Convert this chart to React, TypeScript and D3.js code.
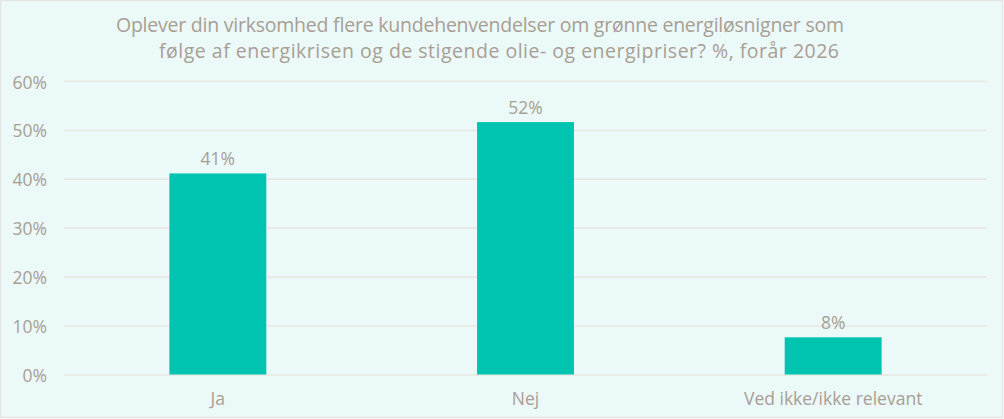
import { useEffect, useRef } from 'react';
import * as d3 from 'd3';

const categories = ['Ja', 'Nej', 'Ved ikke/ikke relevant'];
const shares = [41.1, 51.6, 7.6];
const yTicks = [0, 10, 20, 30, 40, 50, 60];
const titleLines = [
  'Oplever din virksomhed flere kundehenvendelser  om grønne energiløsnigner som',
  'følge af energikrisen og de stigende olie- og energipriser? %, forår 2026',
];

const W = 1004;
const H = 419;
const FONT = '"Open Sans", sans-serif';
const TEXT = '#a89e94';

const App = () => {
  const svgRef = useRef<SVGSVGElement>(null);

  useEffect(() => {
    if (!svgRef.current) return;
    const svg = d3.select(svgRef.current);
    svg.selectAll('*').remove();

    const margin = { top: 81, right: 17, bottom: 44, left: 64 };
    const width = W - margin.left - margin.right;
    const height = H - margin.top - margin.bottom - 0.5;

    // panel
    svg.append('rect')
      .attr('x', 0.5)
      .attr('y', 0.5)
      .attr('width', W - 2)
      .attr('height', H - 2)
      .attr('fill', '#ebf9f8')
      .attr('stroke', '#e4e4e4')
      .attr('stroke-width', 1.5);

    // title, two lines, widths fitted to the original layout
    const title = svg.append('g')
      .style('font-family', FONT)
      .style('font-size', '19.5px')
      .style('fill', TEXT)
      .style('white-space', 'pre');
    title.append('text')
      .attr('x', 480).attr('y', 32)
      .attr('text-anchor', 'middle')
      .attr('textLength', 728)
      .attr('lengthAdjust', 'spacing')
      .text(titleLines[0]);
    title.append('text')
      .attr('x', 499).attr('y', 58)
      .attr('text-anchor', 'middle')
      .attr('textLength', 680)
      .attr('lengthAdjust', 'spacing')
      .text(titleLines[1]);

    const g = svg.append('g').attr('transform', `translate(${margin.left},${margin.top})`);

    const x = d3.scaleBand().domain(categories).range([0, width]).paddingInner(0).paddingOuter(0);
    const y = d3.scaleLinear().domain([0, 60]).range([height, 0]);

    // y grid + labels
    g.append('g')
      .call(d3.axisLeft(y).tickValues(yTicks).tickSize(-width).tickPadding(17).tickFormat(d => `${d}%`))
      .call(a => a.select('.domain').remove())
      .call(a => a.selectAll('.tick line').attr('stroke', '#e9e6e1').attr('stroke-width', 1.5))
      .call(a => a.selectAll('.tick text')
        .attr('dy', '0.4em')
        .style('font-family', FONT)
        .style('font-size', '17.5px')
        .style('fill', TEXT));

    // x labels
    g.append('g')
      .attr('transform', `translate(0,${height})`)
      .call(d3.axisBottom(x).tickSize(0).tickPadding(18))
      .call(a => a.select('.domain').remove())
      .call(a => a.selectAll('.tick text')
        .style('font-family', FONT)
        .style('font-size', '17.5px')
        .style('fill', TEXT));

    const barW = x.bandwidth() * 0.315;
    const data = categories.map((c, i) => ({ c, v: shares[i] }));

    g.append('g')
      .selectAll('rect')
      .data(data)
      .join('rect')
      .attr('x', d => (x(d.c) ?? 0) + x.bandwidth() / 2 - barW / 2)
      .attr('y', d => y(d.v))
      .attr('width', barW)
      .attr('height', d => height - y(d.v))
      .attr('fill', '#00c4b0');

    g.append('g')
      .selectAll('text')
      .data(data)
      .join('text')
      .attr('x', d => (x(d.c) ?? 0) + x.bandwidth() / 2)
      .attr('y', d => y(d.v) - 8)
      .attr('text-anchor', 'middle')
      .style('font-family', FONT)
      .style('font-size', '17.5px')
      .style('fill', TEXT)
      .text(d => `${Math.round(d.v)}%`);
  }, []);

  return (
    <svg
      ref={svgRef}
      width={W}
      height={H}
      style={{ position: 'absolute', left: 0, top: 0, display: 'block' }}
    />
  );
};

export default App;
